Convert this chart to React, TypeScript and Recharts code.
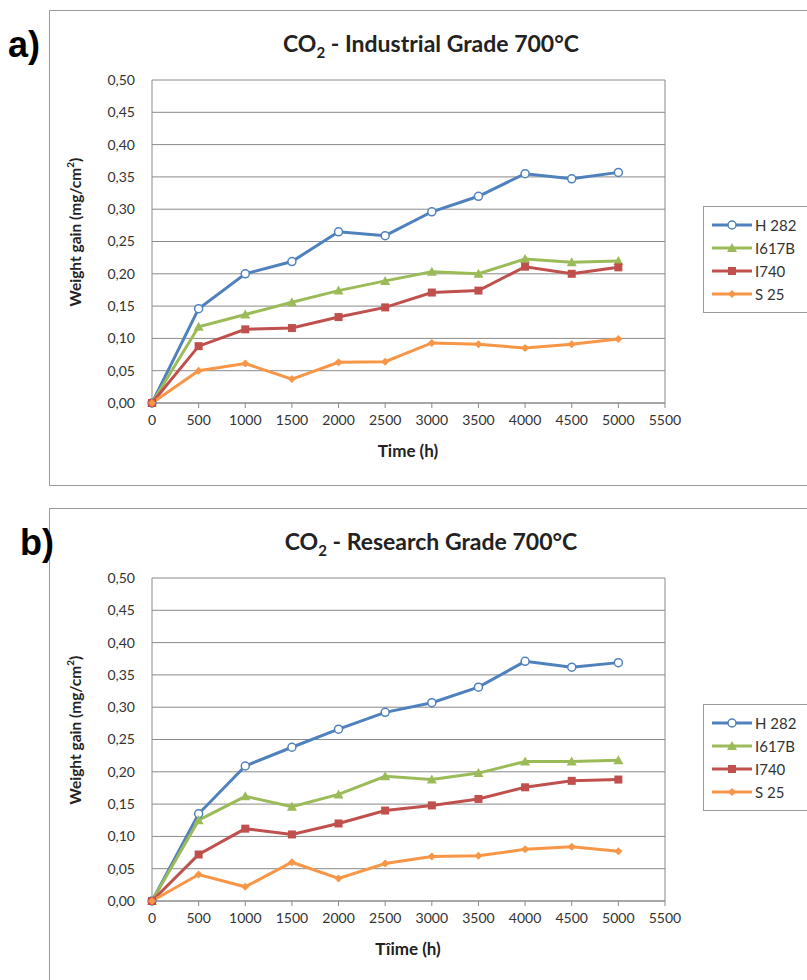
import React from 'react';
import { LineChart, Line, XAxis, YAxis, CartesianGrid, Legend, ReferenceLine } from 'recharts';

const hours = [0, 500, 1000, 1500, 2000, 2500, 3000, 3500, 4000, 4500, 5000];
const xTicks = [0, 500, 1000, 1500, 2000, 2500, 3000, 3500, 4000, 4500, 5000, 5500];
const yTicks = [0, 0.05, 0.1, 0.15, 0.2, 0.25, 0.3, 0.35, 0.4, 0.45, 0.5];

// a) industrial grade CO2
const industrialH282 = [0, 0.146, 0.2, 0.219, 0.265, 0.259, 0.296, 0.32, 0.355, 0.347, 0.357];
const industrialI617B = [0, 0.118, 0.137, 0.156, 0.174, 0.189, 0.203, 0.2, 0.223, 0.218, 0.22];
const industrialI740 = [0, 0.088, 0.114, 0.116, 0.133, 0.148, 0.171, 0.174, 0.211, 0.2, 0.21];
const industrialS25 = [0, 0.05, 0.061, 0.037, 0.063, 0.064, 0.093, 0.091, 0.085, 0.091, 0.099];

// b) research grade CO2
const researchH282 = [0, 0.135, 0.209, 0.238, 0.266, 0.292, 0.307, 0.331, 0.371, 0.362, 0.369];
const researchI617B = [0, 0.125, 0.162, 0.146, 0.165, 0.193, 0.188, 0.198, 0.216, 0.216, 0.218];
const researchI740 = [0, 0.072, 0.112, 0.103, 0.12, 0.14, 0.148, 0.158, 0.176, 0.186, 0.188];
const researchS25 = [0, 0.041, 0.022, 0.06, 0.035, 0.058, 0.069, 0.07, 0.08, 0.084, 0.077];

const SERIES = [
  { key: 'h282', name: 'H 282', color: '#4F81BD', marker: 'circle' },
  { key: 'i617b', name: 'I617B', color: '#9BBB59', marker: 'triangle' },
  { key: 'i740', name: 'I740', color: '#C0504D', marker: 'square' },
  { key: 's25', name: 'S 25', color: '#F79646', marker: 'diamond' },
];

const buildRows = (h282: number[], i617b: number[], i740: number[], s25: number[]) =>
  hours.map((t, i) => ({ time: t, h282: h282[i], i617b: i617b[i], i740: i740[i], s25: s25[i] }));

const industrialData = buildRows(industrialH282, industrialI617B, industrialI740, industrialS25);
const researchData = buildRows(researchH282, researchI617B, researchI740, researchS25);

const FONT = 'Lato, "Open Sans", sans-serif';
const GRID = '#8a8a8a';

const drawMarker = (kind: string, cx: number, cy: number, color: string, key?: string) => {
  if (kind === 'circle')
    return <circle key={key} cx={cx} cy={cy} r={4} fill="#fff" stroke={color} strokeWidth={1.5} />;
  if (kind === 'triangle')
    return <polygon key={key} points={`${cx},${cy - 5} ${cx - 5},${cy + 4} ${cx + 5},${cy + 4}`} fill={color} />;
  if (kind === 'square')
    return <rect key={key} x={cx - 4} y={cy - 4} width={8} height={8} fill={color} />;
  return <polygon key={key} points={`${cx},${cy - 4} ${cx + 4},${cy} ${cx},${cy + 4} ${cx - 4},${cy}`} fill={color} />;
};

const fmt = (v: number) => v.toFixed(2).replace('.', ',');

const LegendBox = () => (
  <div style={{ border: '1px solid #9a9a9a', background: '#fff', padding: '6px 0 7px 7px', fontFamily: FONT, fontSize: 15, color: '#333' }}>
    {SERIES.map((s) => (
      <div key={s.key} style={{ display: 'flex', alignItems: 'center', height: 23 }}>
        <svg width={42} height={12} style={{ display: 'block' }}>
          <line x1={1} y1={6} x2={41} y2={6} stroke={s.color} strokeWidth={3} />
          {drawMarker(s.marker, 21, 6, s.color)}
        </svg>
        <span style={{ marginLeft: 2 }}>{s.name}</span>
      </div>
    ))}
  </div>
);

interface PanelProps {
  tag: string;
  tagLeft: number;
  title: string;
  xLabel: string;
  data: Array<Object>;
  top: number;
  boxHeight: number;
}

const Panel: React.FC<PanelProps> = (props) => {
  return (
    <div style={{ position: 'absolute', left: 0, top: props.top, width: 807, height: 490 }}>
      <div style={{ position: 'absolute', left: 49, top: 10, width: 800, height: props.boxHeight, border: '1px solid #9a9a9a', boxSizing: 'border-box' }} />
      <div style={{ position: 'absolute', left: props.tagLeft, top: 27, fontFamily: 'Liberation Sans, Arial, sans-serif', fontWeight: 'bold', fontSize: 36, lineHeight: 1 }}>
        {props.tag}
      </div>
      <div style={{ position: 'absolute', left: 0, top: 32, width: 862, textAlign: 'center', fontFamily: FONT, fontWeight: 'bold', fontSize: 23, lineHeight: 1, color: '#222' }}>
        CO<sub style={{ fontSize: 15 }}>2</sub> - {props.title}
      </div>
      <LineChart width={807} height={490} data={props.data} margin={{ top: 80, right: 142, left: 72, bottom: 27 }} style={{ position: 'absolute', left: 0, top: 0 }}>
        <CartesianGrid vertical={false} stroke={GRID} strokeDasharray="" />
        <ReferenceLine x={5500} stroke={GRID} />
        <XAxis
          dataKey="time"
          type="number"
          domain={[0, 5500]}
          ticks={xTicks}
          height={60}
          stroke={GRID}
          tickSize={5}
          tickMargin={7}
          tick={{ fill: '#333', fontSize: 14, fontFamily: FONT }}
          label={{
            content: () => (
              <text x={408} y={450} textAnchor="middle" dominantBaseline="central" fontFamily={FONT} fontWeight="bold" fontSize={17} fill="#222">
                {props.xLabel}
              </text>
            ),
          }}
        />
        <YAxis
          type="number"
          domain={[0, 0.5]}
          ticks={yTicks}
          width={80}
          stroke={GRID}
          tickLine={false}
          tickSize={6}
          tickMargin={11}
          tickFormatter={fmt}
          tick={{ fill: '#333', fontSize: 14, fontFamily: FONT }}
          label={{
            content: () => (
              <text x={75} y={232} transform="rotate(-90 75 232)" textAnchor="middle" dominantBaseline="central" fontFamily={FONT} fontWeight="bold" fontSize={15.5} fill="#222">
                Weight gain (mg/cm<tspan dy={-5} fontSize={10}>2</tspan><tspan dy={5}>)</tspan>
              </text>
            ),
          }}
        />
        <Legend layout="vertical" align="center" verticalAlign="middle" wrapperStyle={{ left: 703, top: 206, width: 130 }} content={() => <LegendBox />} />
        {SERIES.map((s) => (
          <Line
            key={s.key}
            dataKey={s.key}
            name={s.name}
            stroke={s.color}
            strokeWidth={3}
            isAnimationActive={false}
            dot={(p: any) => drawMarker(s.marker, p.cx, p.cy, s.color, `${s.key}-${p.index}`)}
            activeDot={false}
          />
        ))}
      </LineChart>
    </div>
  );
};

export default function App() {
  return (
    <div style={{ position: 'absolute', left: 0, top: 0, width: 807, height: 980, background: '#fff', overflow: 'hidden' }}>
      <Panel tag="a)" tagLeft={8} title="Industrial Grade 700°C" xLabel="Time (h)" data={industrialData} top={0} boxHeight={476} />
      <Panel tag="b)" tagLeft={20} title="Research Grade 700°C" xLabel="Tîime (h)" data={researchData} top={498} boxHeight={485} />
    </div>
  );
}
